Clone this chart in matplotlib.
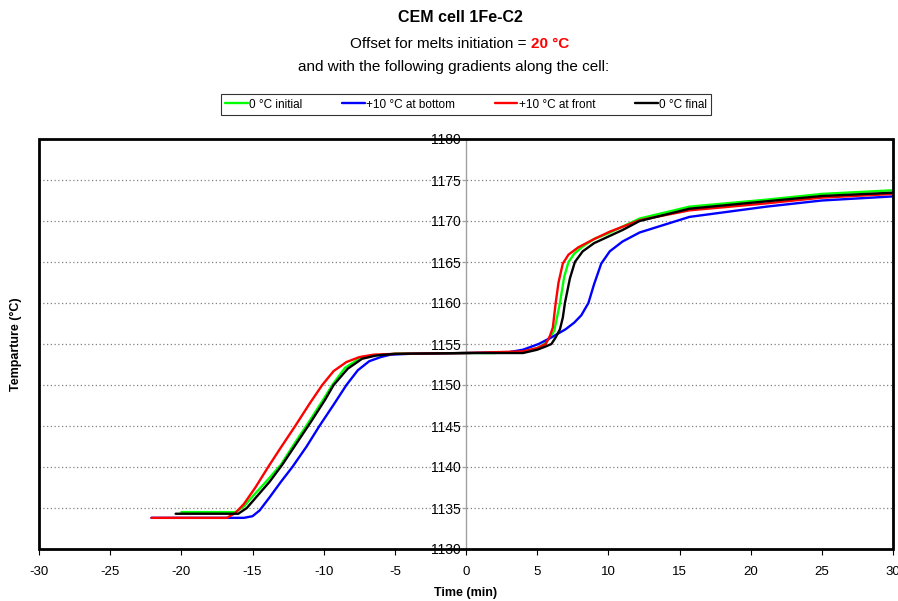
import matplotlib
matplotlib.use("Agg")
import matplotlib.pyplot as plt
from matplotlib.patches import Rectangle

plt.rcParams['font.family'] = ['Liberation Sans', 'DejaVu Sans']

# ---- data (time in min, temperature in °C) ----
t_initial = [-20.0, -16.2, -15.6, -15.0, -14.0, -13.0, -12.0, -11.0, -10.0, -9.4, -8.5, -7.5,
             -6.5, -5.0, -2.0, 0.0, 2.0, 4.0, 5.0, 5.5, 5.9, 6.2, 6.4, 6.6, 6.9, 7.2, 7.6,
             8.2, 9.0, 10.0, 12.2, 15.7, 21.1, 25.0, 30.0]
T_initial = [1134.5, 1134.5, 1135.2, 1136.4, 1138.3, 1140.3, 1143.0, 1145.6, 1148.3, 1150.0,
             1152.1, 1153.2, 1153.6, 1153.8, 1153.85, 1153.9, 1153.9, 1154.1, 1154.5, 1155.0,
             1155.8, 1156.6, 1158.3, 1160.0, 1163.2, 1165.0, 1166.0, 1166.9, 1167.8, 1168.5,
             1170.3, 1171.75, 1172.6, 1173.3, 1173.75]

t_bottom = [-22.1, -15.6, -15.0, -14.5, -13.8, -13.0, -12.2, -11.2, -10.3, -9.3, -8.4, -7.6,
            -6.8, -6.0, -5.3, -4.0, 0.0, 3.0, 4.0, 5.1, 6.0, 7.0, 7.6, 8.1, 8.6, 9.0, 9.5,
            10.1, 11.0, 12.2, 15.7, 21.1, 25.0, 30.0]
T_bottom = [1133.8, 1133.8, 1134.0, 1134.7, 1136.3, 1138.2, 1140.0, 1142.5, 1145.0, 1147.6,
            1150.0, 1151.8, 1152.9, 1153.4, 1153.7, 1153.8, 1153.9, 1154.0, 1154.3, 1155.0,
            1155.8, 1156.8, 1157.6, 1158.5, 1160.0, 1162.3, 1164.8, 1166.3, 1167.5, 1168.6,
            1170.5, 1171.75, 1172.5, 1173.0]

t_front = [-22.1, -16.8, -16.2, -15.6, -14.8, -13.9, -13.0, -12.0, -11.0, -10.1, -9.3, -8.4,
           -7.5, -6.5, -5.0, 0.0, 4.0, 5.0, 5.6, 5.9, 6.1, 6.2, 6.3, 6.5, 6.8, 7.2, 7.9, 9.0,
           10.1, 12.2, 15.7, 21.1, 25.0, 30.0]
T_front = [1133.8, 1133.8, 1134.4, 1135.5, 1137.5, 1140.0, 1142.4, 1145.0, 1147.7, 1150.0,
           1151.7, 1152.8, 1153.4, 1153.7, 1153.8, 1153.9, 1154.1, 1154.5, 1155.0, 1156.0,
           1157.0, 1158.5, 1160.0, 1162.5, 1164.8, 1165.9, 1166.8, 1167.8, 1168.7, 1170.1,
           1171.3, 1172.15, 1172.85, 1173.3]

t_final = [-20.4, -16.0, -15.4, -14.8, -13.8, -12.9, -11.9, -10.9, -9.9, -9.3, -8.3, -7.3,
           -6.3, -5.0, 0.0, 4.0, 5.0, 5.6, 6.0, 6.3, 6.6, 6.8, 6.95, 7.3, 7.65, 8.2, 9.0,
           10.0, 11.0, 12.2, 15.7, 21.1, 25.0, 30.0]
T_final = [1134.3, 1134.3, 1135.0, 1136.2, 1138.2, 1140.3, 1142.9, 1145.5, 1148.2, 1150.0,
           1152.0, 1153.2, 1153.6, 1153.8, 1153.9, 1153.9, 1154.3, 1154.7, 1155.0, 1155.8,
           1156.8, 1158.2, 1160.0, 1163.0, 1165.0, 1166.3, 1167.3, 1168.1, 1168.9, 1170.0,
           1171.5, 1172.4, 1173.05, 1173.45]

series_labels = ['0 °C initial', '+10 °C at bottom', '+10 °C at front', '0 °C final']
series_colors = ['#00ff00', '#0000ff', '#ff0000', '#000000']

x_ticks = list(range(-30, 31, 5))
y_ticks = list(range(1130, 1181, 5))

# ---- figure ----
fig = plt.figure(figsize=(8.98, 6.01), dpi=100)
ax = fig.add_axes([39/898, 1 - 549/601, (893 - 39)/898, (549 - 139)/601])

series = [(t_initial, T_initial), (t_bottom, T_bottom), (t_front, T_front), (t_final, T_final)]
handles = []
for (tx, ty), lab, col in zip(series, series_labels, series_colors):
    h, = ax.plot(tx, ty, color=col, lw=1.7, label=lab, solid_capstyle='round',
                 solid_joinstyle='round', zorder=3)
    handles.append(h)

ax.set_xlim(-30, 30)
ax.set_ylim(1130, 1180)
ax.set_xticks(x_ticks)
ax.set_yticks(y_ticks)
ax.set_xticklabels([str(v) for v in x_ticks], fontsize=9.5)
ax.set_yticklabels([str(v) for v in y_ticks], fontsize=9.5)

# y axis drawn at x = 0
ax.spines['left'].set_position(('data', 0))
ax.spines['left'].set_color('#a0a0a0')
ax.spines['left'].set_linewidth(1.0)
for s in ['top', 'right', 'bottom']:
    ax.spines[s].set_visible(False)
ax.tick_params(axis='y', direction='out', length=3, color='#a0a0a0', pad=1, labelcolor='#000000')
ax.tick_params(axis='x', direction='out', length=4, width=0.8, color='#000000', pad=8)

# frame
ax.add_patch(Rectangle((0, 0), 1, 1, transform=ax.transAxes, fill=False,
                       edgecolor='black', lw=2.0, clip_on=False, zorder=5))

# dotted horizontal grid
for yv in y_ticks[1:-1]:
    ax.axhline(yv, color='#808080', lw=0.9, ls=(0, (1, 2)), zorder=1)

ax.set_xlabel('Time (min)', fontsize=9, fontweight='bold', labelpad=7)
fig.text(16/898, 1 - 344/601, 'Temparture (°C)', rotation=90, fontsize=9,
         fontweight='bold', ha='center', va='center')

# titles
fig.text(460/898, 1 - 18/601, 'CEM cell 1Fe-C2', ha='center', va='center', fontsize=11.5,
         fontweight='bold')
fig.text(454/898, 1 - 67/601, 'and with the following gradients along the cell:', ha='center',
         va='center', fontsize=11)

renderer = fig.canvas.get_renderer()
part1 = fig.text(0, 1 - 44/601, 'Offset for melts initiation = ', ha='left', va='center',
                 fontsize=11)
part2 = fig.text(0, 1 - 44/601, '20 °C', ha='left', va='center', fontsize=11,
                 fontweight='bold', color='#ff0000')
w1 = part1.get_window_extent(renderer).width
w2 = part2.get_window_extent(renderer).width
x0 = 460 - (w1 + w2) / 2
part1.set_x(x0 / 898)
part2.set_x((x0 + w1) / 898)

leg = fig.legend(handles=handles, labels=series_labels, ncol=4, loc='center',
                 bbox_to_anchor=(466/898, 1 - 104.5/601), fontsize=8.5, frameon=True,
                 fancybox=False, edgecolor='#000000', handlelength=1.9, handletextpad=0.1,
                 columnspacing=3.4, borderpad=0.35, borderaxespad=0)
leg.get_frame().set_linewidth(0.8)

fig.savefig('out.png', dpi=100)
